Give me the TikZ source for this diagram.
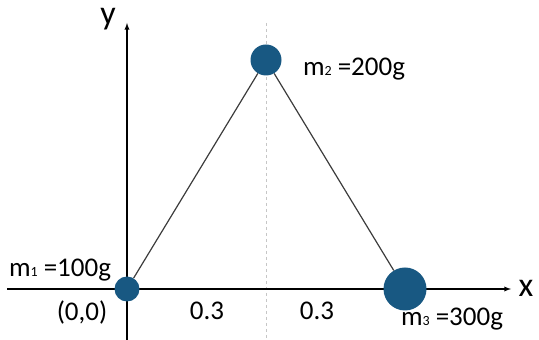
\documentclass[tikz,border=0pt]{standalone}
\usepackage{fontspec}
\setmainfont{Carlito}
\usetikzlibrary{positioning}
\definecolor{massblue}{RGB}{24,88,130}
\definecolor{rodgray}{RGB}{60,60,60}
\newcommand{\massidx}[1]{{\fontsize{14}{14}\selectfont\raisebox{-0.5pt}{#1}}}

\begin{document}
\begin{tikzpicture}[x=1pt,y=1pt,
mass/.style={circle,fill=massblue,inner sep=0pt},
lbl/.style={font=\fontsize{27}{30}\selectfont,inner sep=0pt},
axlbl/.style={font=\fontsize{34}{36}\selectfont,inner sep=0pt},
axis/.style={line width=1.3pt,-latex}]
 \useasboundingbox (0,0) rectangle (539,340);
 % axes and the dashed middle line
 \coordinate (xl) at (7,51);
 \coordinate (xr) at (511,51);
 \coordinate (yb) at (127,0);
 \coordinate (yt) at (127,317);
 \coordinate (mt) at (266,317);
 \coordinate (mb) at (266,0);
 \draw[gray!45,dashed,line width=0.7pt] (mt) -- (mb);
 \draw[axis] (xl) -- (xr);
 \draw[axis] (yb) -- (yt);
 \node[axlbl] (xlab) at (526,52) {x};
 \node[axlbl] (ylab) at (108,321) {y};
 % the three masses
 \node[mass,minimum size=25] (m1) at (127,51) {};
 \node[mass,minimum size=31] (m2) at (266,280) {};
 \node[mass,minimum size=43] (m3) at (405,51) {};
 \draw[rodgray,line width=1.2pt] (m1) -- (m2) -- (m3);
 \node[lbl] (l1) at (60,70) {m\massidx{1} =100g};
 \node[lbl] (l2) at (354,271) {m\massidx{2} =200g};
 \node[lbl] (l3) at (452,21) {m\massidx{3} =300g};
 \node[lbl] (o) at (82,28) {(0,0)};
 \foreach \X/\P in {a/207,b/317}
 {\node[lbl] (d\X) at (\P,29) {0.3};}
\end{tikzpicture}
\end{document}
